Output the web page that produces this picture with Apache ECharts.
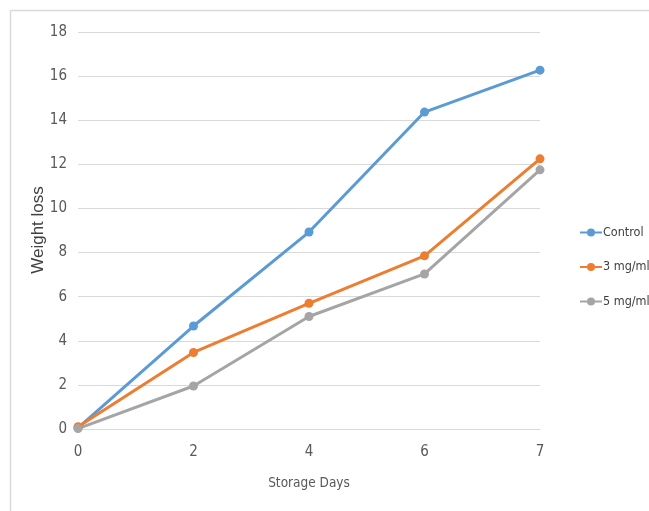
<!DOCTYPE html>
<html><head><meta charset="utf-8">
<script src="https://cdn.jsdelivr.net/npm/echarts@6/dist/echarts.min.js"></script>
<style>html,body{margin:0;padding:0;background:#fff}#c{width:649px;height:511px}</style>
</head><body><div id="c"></div>
<script>
const categories = ['0','2','4','6','7'];
const control = [0.05, 4.67, 8.93, 14.37, 16.27];
const mg3 = [0.1, 3.47, 5.7, 7.85, 12.25];
const mg5 = [0.02, 1.95, 5.1, 7.03, 11.75];
const yTicks = [0, 18, 2];
const yTitle = 'Weight loss';

const font = '"DejaVu Sans Condensed", sans-serif';
const chart = echarts.init(document.getElementById('c'));
function s(name, data, color){
  return {name, type:'line', data, symbol:'circle', symbolSize:9,
    lineStyle:{width:3, color}, itemStyle:{color}};
}
chart.setOption({
  animation:false,
  graphic:[
    {type:'line', shape:{x1:10.5,y1:10.5,x2:649,y2:10.5}, style:{stroke:'#d9d9d9', lineWidth:1.5}},
    {type:'line', shape:{x1:10.5,y1:10.5,x2:10.5,y2:511}, style:{stroke:'#d9d9d9', lineWidth:1.5}},
    {type:'text', x:38, y:230, rotation:Math.PI/2,
      style:{text:yTitle, fill:'#404040', font:'17px "Liberation Sans", Arial, sans-serif',
        textAlign:'center', textVerticalAlign:'middle'}}
  ],
  grid:{left:78, right:109, top:32, bottom:82},
  legend:{orient:'vertical', left:574, top:221, itemGap:21.5, itemWidth:22, itemHeight:10,
    textStyle:{color:'#404040', fontSize:12.5, fontFamily:font, padding:[0,0,0,-4]},
    data:['Control','3 mg/ml','5 mg/ml']},
  xAxis:{type:'category', data:categories, boundaryGap:false,
    name:'Storage Days', nameLocation:'middle', nameGap:47,
    nameTextStyle:{color:'#595959', fontSize:13.5, fontFamily:font},
    axisLine:{show:true, lineStyle:{color:'#d9d9d9'}}, axisTick:{show:false},
    axisLabel:{color:'#595959', fontSize:15, fontFamily:font, margin:16}},
  yAxis:{type:'value', min:yTicks[0], max:yTicks[1], interval:yTicks[2],
    axisLine:{show:false}, axisTick:{show:false},
    splitLine:{lineStyle:{color:'#d9d9d9'}},
    axisLabel:{color:'#595959', fontSize:15, fontFamily:font, margin:11}},
  series:[s('Control', control, '#5b9bd5'), s('3 mg/ml', mg3, '#ed7d31'), s('5 mg/ml', mg5, '#a5a5a5')]
});
</script></body></html>
